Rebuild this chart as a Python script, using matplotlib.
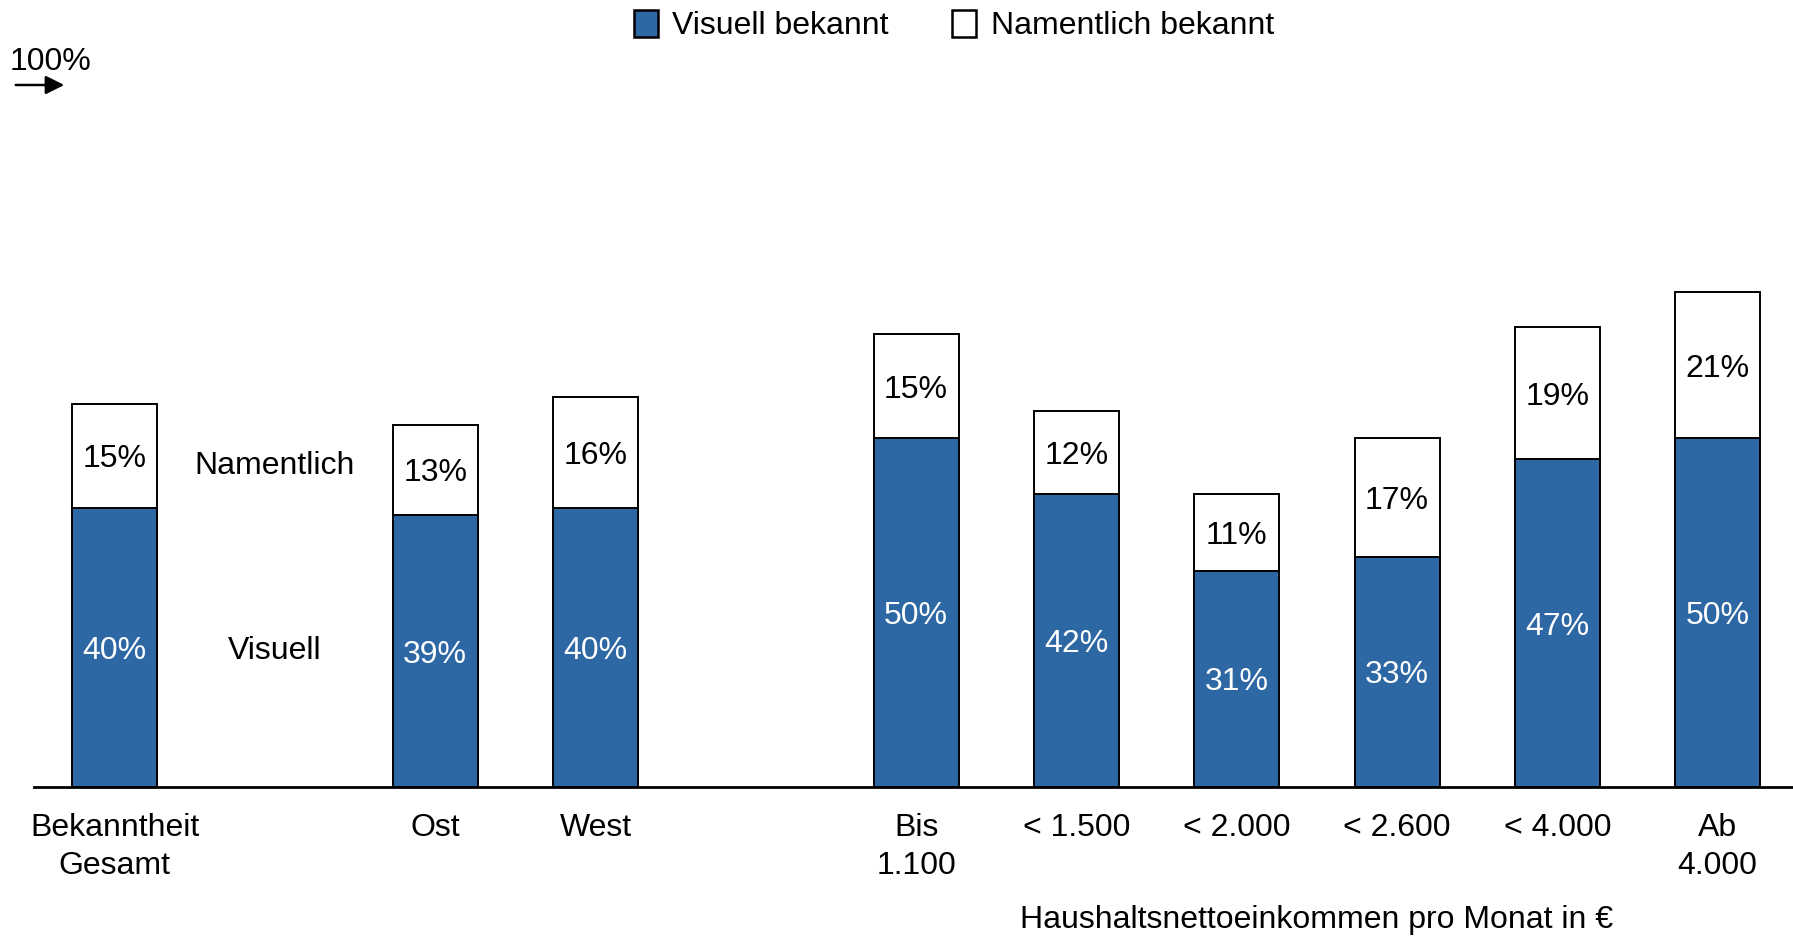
import numpy as np
import matplotlib.pyplot as plt
from matplotlib.patches import Patch

plt.rcParams['font.family'] = ['Liberation Sans', 'DejaVu Sans']

# Bekanntheit nach Region und Einkommen (in %)
categories = ['Bekanntheit\nGesamt', 'Ost', 'West', 'Bis\n1.100', '< 1.500',
              '< 2.000', '< 2.600', '< 4.000', 'Ab\n4.000']
slots = [0, 2, 3, 5, 6, 7, 8, 9, 10]
visuell = [40, 39, 40, 50, 42, 31, 33, 47, 50]
namentlich = [15, 13, 16, 15, 12, 11, 17, 19, 21]

blue = '#2D68A5'
fs = 23

fig = plt.figure(figsize=(17.93, 9.36), dpi=100)
ax = fig.add_axes([0.019, 0.1592, 0.981, 0.7447])

x = np.array(slots, dtype=float)
v = np.array(visuell)
n = np.array(namentlich)

ax.bar(x, v, width=0.53, color=blue, edgecolor='black', linewidth=1.4, zorder=2)
ax.bar(x, n, width=0.53, bottom=v, color='white', edgecolor='black',
       linewidth=1.4, zorder=2)

for xi, vi, ni in zip(x, v, n):
    ax.text(xi, vi / 2, f'{vi}%', ha='center', va='center_baseline',
            color='white', fontsize=fs)
    ax.text(xi, vi + ni / 2, f'{ni}%', ha='center', va='center_baseline',
            color='black', fontsize=fs)

# Segment captions next to the first bar
ax.text(1, 46.6, 'Namentlich', ha='center', va='center_baseline', fontsize=fs)
ax.text(1, 20.0, 'Visuell', ha='center', va='center_baseline', fontsize=fs)

ax.set_xlim(-0.502, 10.47)
ax.set_ylim(0, 100)
for s in ['top', 'right', 'left']:
    ax.spines[s].set_visible(False)
ax.spines['bottom'].set_linewidth(2)
ax.set_yticks([])
ax.set_xticks(x)
ax.set_xticklabels(categories, fontsize=fs, linespacing=1.35, va='top')
ax.tick_params(axis='x', length=0, pad=19)

ax.text(7.5, -19.1, 'Haushaltsnettoeinkommen pro Monat in €', ha='center',
        va='center', fontsize=fs, clip_on=False)

# 100%-Markierung oben links
fig.text(10 / 1793, 1 - 62 / 936, '100%', ha='left', va='center', fontsize=fs)
ax.annotate('', xy=(67 / 1793, 1 - 85 / 936), xytext=(13 / 1793, 1 - 85 / 936),
            xycoords='figure fraction', textcoords='figure fraction',
            arrowprops=dict(arrowstyle='-|>', color='black', lw=1.8,
                            mutation_scale=28))

handles = [Patch(facecolor=blue, edgecolor='black', linewidth=1.8),
           Patch(facecolor='white', edgecolor='black', linewidth=1.8)]
fig.legend(handles, ['Visuell bekannt', 'Namentlich bekannt'], loc='upper center',
           bbox_to_anchor=(0.532, 1.02), ncol=2, frameon=False, fontsize=fs,
           handlelength=0.75, handleheight=0.9, handletextpad=0.45,
           columnspacing=2.0)

fig.savefig('out.png', dpi=100)
